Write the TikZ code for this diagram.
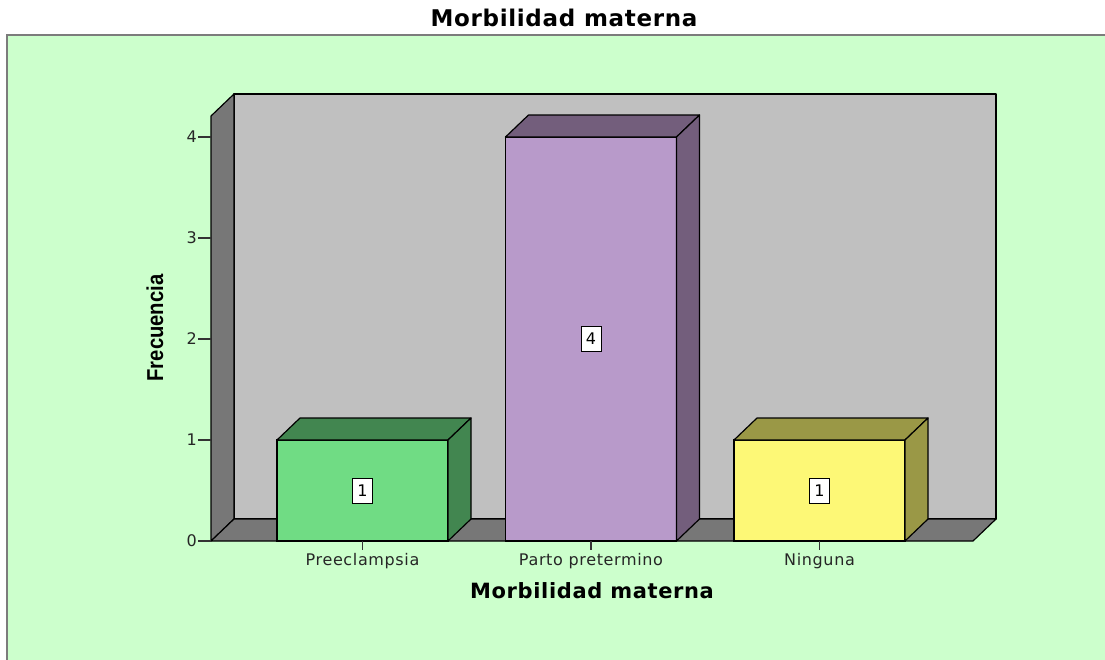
\documentclass[tikz,border=0pt]{standalone}
\usepackage{fontspec}
\setmainfont{DejaVu Sans}
\newfontfamily\catfont{DejaVu Sans}[LetterSpace=4]
\newfontfamily\titlefont{DejaVu Sans}[LetterSpace=3]
\newfontfamily\narrowfont{Liberation Sans}[FakeStretch=0.88]
\usetikzlibrary{positioning}
\definecolor{bggreen}{HTML}{CCFFCC}
\definecolor{framegray}{HTML}{7C7C7C}
\definecolor{wallgray}{HTML}{C0C0C0}
\definecolor{sidegray}{HTML}{777777}
\definecolor{prefront}{HTML}{70DC84}
\definecolor{preside}{HTML}{428650}
\definecolor{partofront}{HTML}{B89ACA}
\definecolor{partoside}{HTML}{735E7C}
\definecolor{ningfront}{HTML}{FDF876}
\definecolor{ningside}{HTML}{9A9846}
\tikzset{
    wall/.style = {draw=black, line width=1.2pt, fill=wallgray, line join=round},
    sidewall/.style = {draw=black, line width=1.2pt, fill=sidegray, line join=round},
    barfront/.style = {draw=black, line width=1.2pt, inner sep=0pt, outer sep=0pt, minimum width=171pt},
    barshade/.style = {draw=black, line width=1.2pt, line join=round},
    valbox/.style = {draw=black, fill=white, line width=0.9pt, inner sep=0pt, minimum width=20pt, minimum height=25pt, font=\fontsize{16}{16}\selectfont},
    ticklab/.style = {anchor=east, inner sep=1pt, text=black!85, font=\fontsize{16}{16}\selectfont},
    catlab/.style = {inner sep=0pt, text=black!85, font=\catfont\fontsize{16}{16}\selectfont},
    tick/.style = {line width=1.2pt, black!80},
}

\begin{document}
\begin{tikzpicture}[
	x=1pt,
	y=-1pt,
]
\useasboundingbox (0,0) rectangle (1105,659);
\clip (0,0) rectangle (1105,659);
\draw[fill=bggreen, draw=framegray, line width=2pt] (7,35) rectangle (1120,680);
% titulo
\node[font=\titlefont\bfseries\fontsize{23}{23}\selectfont] at (564,18) (title) {Morbilidad materna};

% paredes
\draw[wall] (234,94) rectangle (996,519);
\draw[sidewall] (211,541) -- (234,519) -- (234,94) -- (211,116) -- cycle;
\draw[sidewall] (211,541) -- (234,519) -- (996,519) -- (973,541) -- cycle;

% eje y
\draw[tick] (198,541) -- (211,541);
\draw[tick] (198,440) -- (211,440);
\draw[tick] (198,339) -- (211,339);
\draw[tick] (198,238) -- (211,238);
\draw[tick] (198,137) -- (211,137);
\node[ticklab] at (198,541) (t0) {0};
\node[ticklab] at (198,440) (t1) {1};
\node[ticklab] at (198,339) (t2) {2};
\node[ticklab] at (198,238) (t3) {3};
\node[ticklab] at (198,137) (t4) {4};
\node[rotate=90, font=\narrowfont\bfseries\fontsize{23}{23}\selectfont] at (155,328) (ytitle) {Frecuencia};

% barras
\node[barfront, fill=prefront, minimum height=101pt] at (362.5,490.5) (pre) {};
\draw[barshade, fill=preside] (pre.north west) -- ++(23,-22) -- ++(171,0) -- (pre.north east) -- cycle;
\draw[barshade, fill=preside] (pre.north east) -- ++(23,-22) -- ++(0,101) -- (pre.south east) -- cycle;

\node[barfront, fill=partofront, minimum height=404pt] at (591,339) (parto) {};
\draw[barshade, fill=partoside] (parto.north west) -- ++(23,-22) -- ++(171,0) -- (parto.north east) -- cycle;
\draw[barshade, fill=partoside] (parto.north east) -- ++(23,-22) -- ++(0,404) -- (parto.south east) -- cycle;

\node[barfront, fill=ningfront, minimum height=101pt] at (819.5,490.5) (ning) {};
\draw[barshade, fill=ningside] (ning.north west) -- ++(23,-22) -- ++(171,0) -- (ning.north east) -- cycle;
\draw[barshade, fill=ningside] (ning.north east) -- ++(23,-22) -- ++(0,101) -- (ning.south east) -- cycle;

\node[valbox] at (pre) (prev) {1};
\node[valbox] at (parto) (partov) {4};
\node[valbox] at (ning) (ningv) {1};

% eje x
\coordinate (c1) at (362.5,541);
\coordinate (c2) at (591,541);
\coordinate (c3) at (819.5,541);
\draw[tick] (c1) -- ++(0,9);
\draw[tick] (c2) -- ++(0,9);
\draw[tick] (c3) -- ++(0,9);
\node[catlab, below=12pt of c1] (cat1) {Preeclampsia};
\node[catlab, below=12pt of c2] (cat2) {Parto pretermino};
\node[catlab, below=12pt of c3] (cat3) {Ninguna};
\node[font=\titlefont\bfseries\fontsize{21}{21}\selectfont] at (592,591) (xtitle) {Morbilidad materna};

\end{tikzpicture}
\end{document}
